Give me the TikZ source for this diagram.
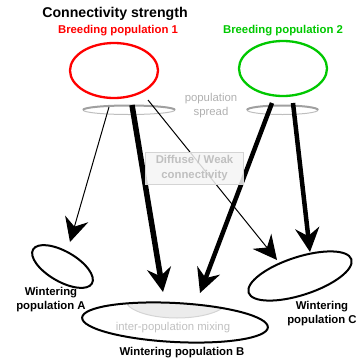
\documentclass[tikz,border=0pt]{standalone}
\usepackage{fontspec}
\setmainfont{Liberation Sans}
\usetikzlibrary{shapes.geometric,arrows.meta}
\definecolor{popred}{RGB}{255,0,0}
\definecolor{popgreen}{RGB}{0,200,0}
\definecolor{ringfront}{RGB}{160,160,160}
\definecolor{ringback}{RGB}{190,190,190}
\definecolor{lbgray}{RGB}{176,176,176}
\definecolor{boxtext}{RGB}{192,192,192}
\definecolor{boxfill}{RGB}{245,245,245}
\definecolor{boxline}{RGB}{212,212,212}
\definecolor{mixfill}{RGB}{236,236,236}
\definecolor{mixline}{RGB}{212,212,212}
\begin{document}
\begin{tikzpicture}[x=1bp,y=-1bp,
  lbl/.style={font=\fontsize{11.4}{14}\selectfont\bfseries,align=center,inner sep=0pt},
  breed/.style={ellipse,draw,line width=2.3bp,minimum width=88bp,minimum height=55bp,inner sep=0pt},
  winter/.style={ellipse,draw,line width=2bp,inner sep=0pt},
  thinarrow/.style={line width=1bp,-{Stealth[length=24bp,width=24bp,inset=8bp]}},
  thickarrow/.style={line width=#1,-{Stealth[length=24bp,width=24bp,inset=8bp]}},
  greytext/.style={text=lbgray,font=\fontsize{11.4}{14}\selectfont,align=center,inner sep=0pt}
]
\useasboundingbox (0,0) rectangle (359,359);

% titles
\node[font=\fontsize{14.2}{16}\selectfont\bfseries,inner sep=0pt] (title) at (115,14) {Connectivity strength};
\node[lbl,text=popred] (b1lbl) at (118,31) {Breeding population 1};
\node[lbl,text=popgreen] (b2lbl) at (283,31) {Breeding population 2};

% breeding populations
\node[breed,draw=popred] (bp1) at (114,70.5) {};
\node[breed,draw=popgreen] (bp2) at (283,68.5) {};

% population spread rings
\draw[ringback,line width=1bp] (83,110) arc[start angle=180,end angle=0,x radius=46,y radius=4.5];
\draw[ringfront,line width=2bp] (83,110) arc[start angle=180,end angle=360,x radius=46,y radius=4.5];
\draw[ringback,line width=1bp] (247,110) arc[start angle=180,end angle=0,x radius=35.5,y radius=4.5];
\draw[ringfront,line width=2bp] (247,110) arc[start angle=180,end angle=360,x radius=35.5,y radius=4.5];
\node[greytext] (spread) at (211,106) {population\\spread};

% wintering populations
\node[winter,minimum width=68bp,minimum height=30bp,rotate=-30] (wA) at (62.5,266.5) {};
\node[winter,minimum width=108bp,minimum height=38bp,rotate=18] (wC) at (300,276) {};
\begin{scope}
  \clip[rotate around={-3:(175,322.5)}] (175,322.5) ellipse[x radius=93,y radius=19.5];
  \fill[mixfill,draw=mixline,line width=1bp] (177,299) ellipse[x radius=52,y radius=19];
\end{scope}
\node[winter,minimum width=186bp,minimum height=39bp,rotate=-3] (wB) at (175,322.5) {};
\node[text=boxtext,font=\fontsize{11.4}{14}\selectfont,inner sep=0pt] (mix) at (173,328) {inter-population mixing};

\node[lbl] (lA) at (51,300) {Wintering\\population A};
\node[lbl] (lB) at (182,353) {Wintering population B};
\node[lbl] (lC) at (322,314) {Wintering\\population C};

% arrow endpoints
\coordinate (s1) at (109,107);
\coordinate (t1) at (70,242);
\coordinate (s2) at (132,105);
\coordinate (t2) at (163,292);
\coordinate (s3) at (148,100);
\coordinate (t3) at (277,260);
\coordinate (s4) at (272,103);
\coordinate (t4) at (200,293);
\coordinate (s5) at (293,103);
\coordinate (t5) at (310,252);

\draw[thinarrow] (s1) -- (t1);
\draw[thickarrow=5.5bp] (s2) -- (t2);
\draw[thinarrow] (s3) -- (t3);
\draw[thickarrow=4.5bp] (s4) -- (t4);
\draw[thickarrow=4.5bp] (s5) -- (t5);

% diffuse box
\node[draw=boxline,fill=boxfill,fill opacity=0.85,text opacity=1,line width=1bp,
      minimum width=97bp,minimum height=32bp,inner sep=0pt,
      text=boxtext,font=\fontsize{11.4}{15}\selectfont\bfseries,align=center] (diffuse) at (194.5,168) {Diffuse / Weak\\connectivity};
\end{tikzpicture}
\end{document}
